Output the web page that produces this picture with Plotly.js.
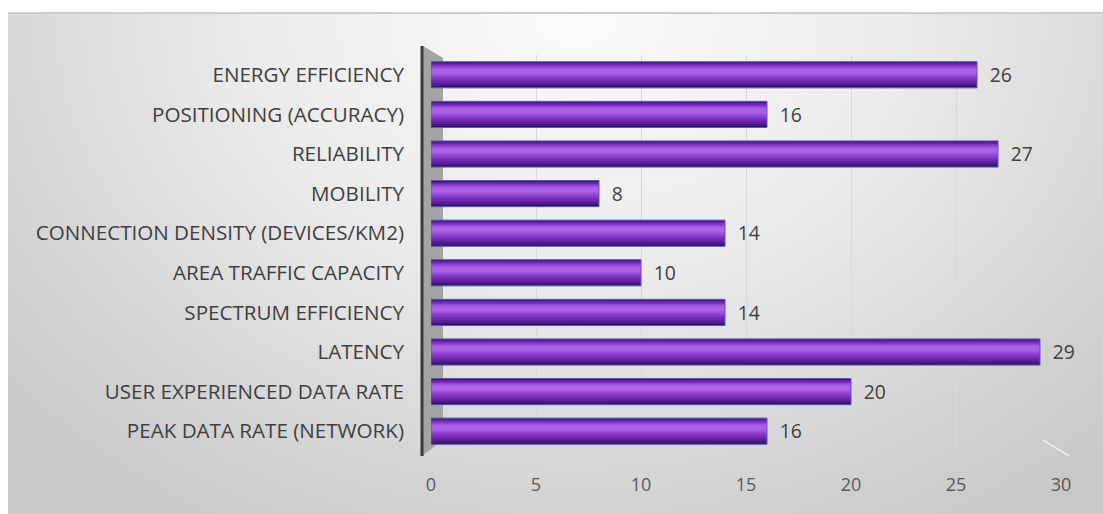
<!DOCTYPE html>
<html>
<head>
<meta charset="utf-8">
<script src="https://cdn.plot.ly/plotly-3.0.1.min.js"></script>
<style>
  html, body { margin: 0; padding: 0; background: #ffffff; }
  #bg { position: absolute; left: 8px; top: 12px; width: 1095px; height: 502px;
        background: radial-gradient(ellipse 72% 125% at 52% 0%, #fafafa 0%, #ebebeb 42%, #d3d3d3 78%, #c7c7c7 100%);
        border-top: 2px solid #cdcdcd; box-sizing: border-box; }
  #chart { position: absolute; left: 0; top: 0; width: 1103px; height: 514px; }
</style>
</head>
<body>
<div id="bg"></div>
<div id="chart"></div>
<script>
// Data (bottom to top)
const categories = [
  "PEAK DATA RATE (NETWORK)",
  "USER EXPERIENCED DATA RATE",
  "LATENCY",
  "SPECTRUM EFFICIENCY",
  "AREA TRAFFIC CAPACITY",
  "CONNECTION DENSITY (DEVICES/KM2)",
  "MOBILITY",
  "RELIABILITY",
  "POSITIONING (ACCURACY)",
  "ENERGY EFFICIENCY"
];
const values = [16, 20, 29, 14, 10, 14, 8, 27, 16, 26];
const tickValues = [0, 5, 10, 15, 20, 25, 30];

// plot geometry helpers (pixel -> paper)
const ML = 420, MR = 1103 - 1065, MT = 55, MB = 514 - 451;
const W = 1103 - ML - MR, H = 514 - MT - MB;
const px = x => (x - ML) / W;
const py = y => (MT + H - y) / H;

// cylinder shading: nested bands [from, to, colour] relative to bar centre (category units)
const BAR_W = 0.66;
const bands = [
  [-0.33, 0.33, '#33105c'],
  [-0.29, 0.315, '#4a1a80'],
  [-0.24, 0.295, '#5d229b'],
  [-0.19, 0.27, '#6f29b1'],
  [-0.13, 0.245, '#8034c4'],
  [-0.07, 0.215, '#9243d4'],
  [-0.015, 0.185, '#a054df'],
  [0.035, 0.15, '#aa63e5']
];

const traces = [];
// gridline carrier (back wall)
traces.push({
  type: 'bar', orientation: 'h', x: values, y: categories, xaxis: 'x3', yaxis: 'y',
  marker: { color: 'rgba(0,0,0,0)' }, hoverinfo: 'skip', showlegend: false, width: 0.01
});
// tick label carrier
traces.push({
  type: 'bar', orientation: 'h', x: values, y: categories, xaxis: 'x2', yaxis: 'y',
  marker: { color: 'rgba(0,0,0,0)' }, hoverinfo: 'skip', showlegend: false, width: 0.01
});
bands.forEach(b => {
  traces.push({
    type: 'bar', orientation: 'h', x: values, y: categories, xaxis: 'x', yaxis: 'y',
    width: b[1] - b[0], offset: b[0],
    marker: { color: b[2], line: { width: 0 } },
    hoverinfo: 'skip', showlegend: false
  });
});
// outline + value labels
traces.push({
  type: 'bar', orientation: 'h', x: values, y: categories, xaxis: 'x', yaxis: 'y',
  width: BAR_W, offset: -BAR_W / 2,
  marker: { color: 'rgba(0,0,0,0)', line: { color: '#5a55c4', width: 1 } },
  texttemplate: '\u2002%{x}', textposition: 'outside', cliponaxis: false,
  textfont: { family: 'Open Sans', size: 20, color: '#404040' },
  hoverinfo: 'skip', showlegend: false
});

const layout = {
  width: 1103, height: 514,
  margin: { l: ML, r: MR, t: MT, b: MB },
  paper_bgcolor: 'rgba(0,0,0,0)', plot_bgcolor: 'rgba(0,0,0,0)',
  barmode: 'overlay',
  showlegend: false,
  font: { family: 'Open Sans', color: '#404040' },
  xaxis: {
    domain: [px(431), px(1061)], range: [0, 30],
    showgrid: false, zeroline: false, showticklabels: false, ticks: '', showline: false
  },
  xaxis2: {
    overlaying: 'x', domain: [px(425), px(1060)], range: [0, 30], anchor: 'y', side: 'bottom',
    tickvals: tickValues, showgrid: false, zeroline: false, showline: false, ticks: '',
    tickfont: { family: 'Open Sans', size: 18, color: '#595959' }, ticklabelstandoff: 21
  },
  xaxis3: {
    overlaying: 'x', domain: [px(445), px(1045)], range: [0, 30], anchor: 'y',
    tickvals: tickValues, showgrid: true, gridcolor: '#d8d8d8', gridwidth: 1,
    zeroline: false, showline: false, showticklabels: false, ticks: ''
  },
  yaxis: {
    type: 'category', categoryorder: 'array', categoryarray: categories,
    range: [-0.5, categories.length - 0.5],
    showgrid: false, zeroline: false, showline: false, ticks: '',
    tickfont: { family: 'Open Sans', size: 20.6, color: '#404040' }, ticklabelstandoff: 26
  },
  shapes: [
    { type: 'path', xref: 'paper', yref: 'paper', layer: 'below',
      path: `M ${px(423)} ${py(46)} L ${px(443)} ${py(58)} L ${px(443)} ${py(440)} L ${px(423)} ${py(455)} Z`,
      fillcolor: '#a4a4a4', line: { width: 0 } },
    { type: 'line', xref: 'paper', yref: 'paper', layer: 'above',
      x0: px(422), x1: px(422), y0: py(46), y1: py(456),
      line: { color: '#3a3a3a', width: 3 } },
    { type: 'line', xref: 'paper', yref: 'paper', layer: 'below',
      x0: px(1043), x1: px(1069), y0: py(440), y1: py(456),
      line: { color: '#ededed', width: 1.5 } }
  ]
};

Plotly.newPlot('chart', traces, layout, { staticPlot: true, displayModeBar: false });
</script>
</body>
</html>
